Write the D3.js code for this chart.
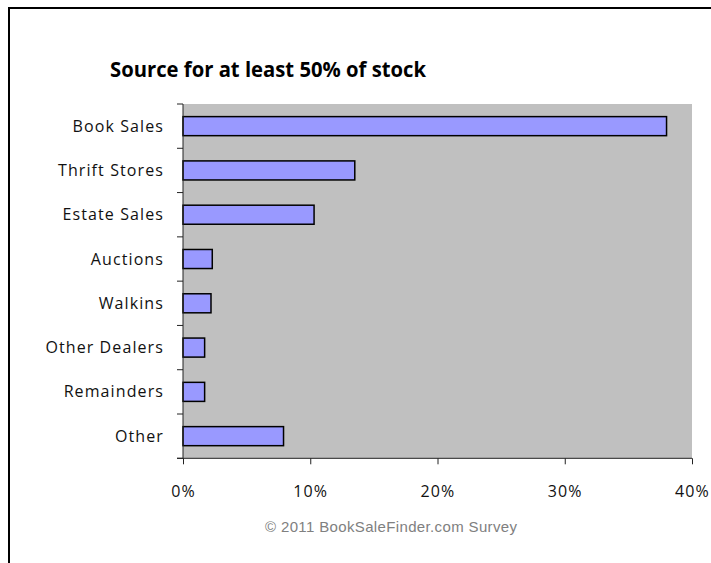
<!DOCTYPE html>
<html>
<head>
<meta charset="utf-8">
<script src="https://cdn.jsdelivr.net/npm/d3@7"></script>
<style>
  body { margin: 0; background: #fff; }
  svg { display: block; }
</style>
</head>
<body>
<svg width="711" height="563"></svg>
<script>
// data (share of respondents, %)
var categories = ["Book Sales", "Thrift Stores", "Estate Sales", "Auctions", "Walkins", "Other Dealers", "Remainders", "Other"];
var values = [38.0, 13.5, 10.3, 2.3, 2.2, 1.7, 1.7, 7.9];
var xTicks = [0, 10, 20, 30, 40];

var svg = d3.select("svg");
var margin = { top: 104, left: 183, right: 19, bottom: 104 };
var width = 711 - margin.left - margin.right,
    height = 563 - margin.top - margin.bottom - 0.7;

// outer frame (only left and top edges show)
svg.append("rect")
    .attr("x", 9).attr("y", 8)
    .attr("width", 800).attr("height", 800)
    .style("fill", "none")
    .style("stroke", "#000")
    .style("stroke-width", 2);

svg.append("text")
    .attr("x", 268).attr("y", 77)
    .attr("text-anchor", "middle")
    .attr("textLength", 316)
    .attr("lengthAdjust", "spacingAndGlyphs")
    .style("font-family", "'Open Sans', sans-serif")
    .style("font-weight", "bold")
    .style("font-size", "21px")
    .text("Source for at least 50% of stock");

var g = svg.append("g").attr("transform", "translate(" + margin.left + "," + margin.top + ")");

var x = d3.scaleLinear().domain([0, 40]).range([0, width]);
var y = d3.scaleBand().domain(categories).range([0, height]).paddingInner(0.57).paddingOuter(0.285);

g.append("rect")
    .attr("width", width).attr("height", height)
    .style("fill", "#c0c0c0");

g.selectAll(".bar")
    .data(values)
  .enter().append("rect")
    .attr("class", "bar")
    .attr("x", 0)
    .attr("y", function(d, i) { return y(categories[i]); })
    .attr("width", function(d) { return x(d); })
    .attr("height", y.bandwidth())
    .style("fill", "#9999ff")
    .style("stroke", "#000")
    .style("stroke-width", 1.5);

// y axis: ticks at the band edges
var step = y.step();
var edges = d3.range(categories.length + 1).map(function(i) { return i * step; });
g.append("line")
    .attr("x1", 0).attr("x2", 0).attr("y1", 0).attr("y2", height)
    .style("stroke", "#222");
g.selectAll(".ytick")
    .data(edges)
  .enter().append("line")
    .attr("x1", -6).attr("x2", 0)
    .attr("y1", function(d) { return d; })
    .attr("y2", function(d) { return d; })
    .style("stroke", "#222");

g.selectAll(".ylabel")
    .data(categories)
  .enter().append("text")
    .attr("x", -19)
    .attr("y", function(d) { return y(d) + y.bandwidth() / 2; })
    .attr("dy", "0.35em")
    .attr("text-anchor", "end")
    .style("font-family", "'Open Sans', sans-serif")
    .style("font-size", "16px")
    .style("letter-spacing", "1.1px")
    .style("fill", "#111")
    .text(function(d) { return d; });

// x axis
var xAxis = g.append("g")
    .attr("transform", "translate(0," + height + ")")
    .call(d3.axisBottom(x).tickValues(xTicks).tickSize(6).tickPadding(21).tickFormat(function(d) { return d + "%"; }));
xAxis.select(".domain").attr("d", "M-6,0H" + width).style("stroke", "#222");
xAxis.selectAll(".tick line").style("stroke", "#222");
xAxis.selectAll("text")
    .style("font-family", "'Open Sans', sans-serif")
    .style("font-size", "16px")
    .style("letter-spacing", "1.1px")
    .style("fill", "#111");

svg.append("text")
    .attr("x", 391).attr("y", 532)
    .attr("text-anchor", "middle")
    .attr("textLength", 252)
    .attr("lengthAdjust", "spacing")
    .style("font-family", "'Liberation Sans', Arial, sans-serif")
    .style("font-size", "15px")
    .style("fill", "#808080")
    .text("\u00a9 2011 BookSaleFinder.com Survey");
</script>
</body>
</html>
